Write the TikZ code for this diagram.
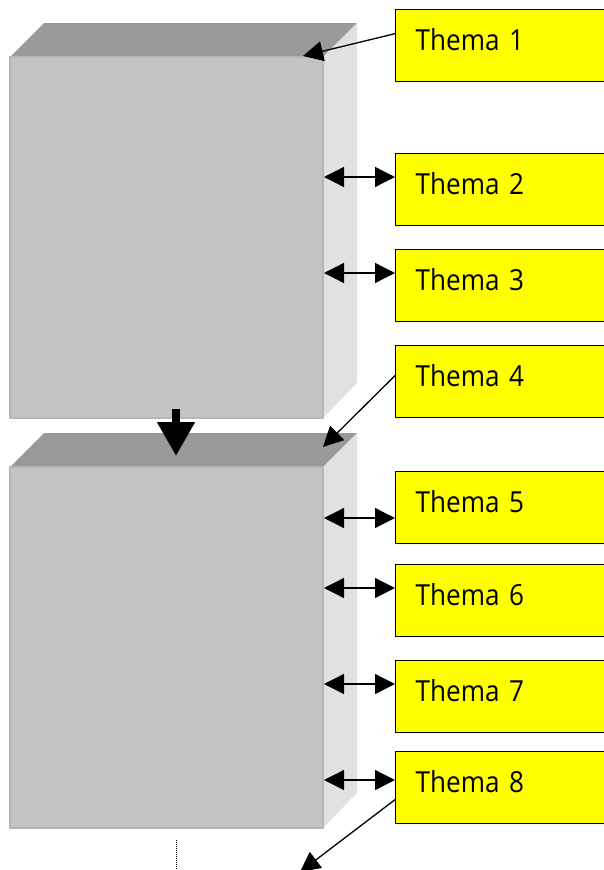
\documentclass[tikz,border=0pt]{standalone}
\usepackage{fontspec}
\setmainfont{Open Sans}[FakeStretch=0.9]
\usetikzlibrary{arrows.meta}

\definecolor{boxfront}{RGB}{195,195,195}
\definecolor{boxtop}{RGB}{153,153,153}
\definecolor{boxside}{RGB}{225,225,225}
\definecolor{boxedge}{RGB}{182,182,182}
\definecolor{themefill}{RGB}{255,255,0}

\begin{document}
\begin{tikzpicture}[x=1pt, y=-1pt,
	thema/.style={draw, line width=1.3pt, fill=themefill, anchor=north west,
		minimum height=72pt, text width=200pt, inner xsep=20pt, align=left,
		text height=22pt, text depth=12pt, font=\fontsize{29}{29}\selectfont},
	pointer/.style={-{Triangle[length=20pt,width=20pt]}, line width=1.3pt},
	twoway/.style={{Triangle[length=20pt,width=20pt]}-{Triangle[length=20pt,width=20pt]}, line width=1.3pt}]
	\useasboundingbox (0,0) rectangle (604,870);
	% the two slabs
	\foreach \y in {57,467}{
		\fill[boxtop] (10,\y) -- (44,\y-34) -- (357,\y-34) -- (323,\y) -- cycle;
		\fill[boxside] (323,\y) -- (357,\y-34) -- (357,\y+326) -- (323,\y+361) -- cycle;
		\filldraw[fill=boxfront, draw=boxedge, line width=1.5pt] (10,\y) rectangle (323,\y+361);
	}
	\coordinate (d1) at (176,409);
	\coordinate (d2) at (176,456);
	\draw[line width=8pt, -{Triangle[length=34pt,width=36pt]}] (d1) -- (d2);
	% topics
	\foreach \n/\y in {1/9,2/153,3/249,4/345,5/471,6/564,7/660,8/751}
		\node[thema] (t\n) at (395,\y) {Thema \n};
	\foreach \n/\y in {2/177,3/273,5/518,6/588,7/684,8/780}{
		\coordinate (s\n) at (324,\y);
		\draw[twoway] (s\n) -- (s\n -| t\n.west);
	}
	\coordinate (c1) at (303,56);
	\coordinate (c4) at (323,447);
	\coordinate (c8) at (300,872);
	\draw[pointer] ([yshift=12pt]t1.west) -- (c1);
	\draw[pointer] ([yshift=6pt]t4.west) -- (c4);
	\draw[pointer] ([yshift=-12pt]t8.west) -- (c8);
	\coordinate (m1) at (176,840);
	\coordinate (m2) at (176,870);
	\draw[line width=1pt, dash pattern=on 1pt off 1pt] (m1) -- (m2);
\end{tikzpicture}
\end{document}
